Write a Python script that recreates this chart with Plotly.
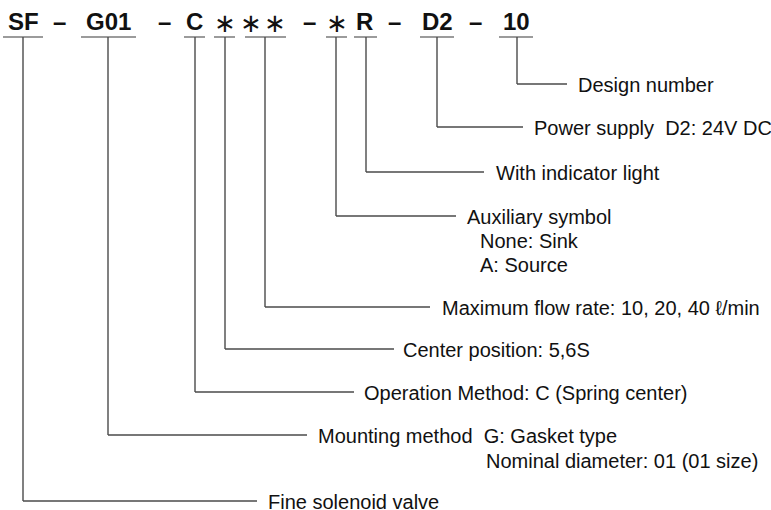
import plotly.graph_objects as go

# ---- content ----
header_tokens = ["SF", "–", "G01", "–", "C", "∗", "∗", "∗", "–", "∗", "R", "–", "D2", "–", "10"]
header_x = [23.5, 59.5, 108.5, 164.5, 194, 225, 251, 274.5, 309, 336.5, 364, 394.5, 437, 475.5, 516]

codes = ["SF", "G01", "C", "∗", "∗∗", "∗", "R", "D2", "10"]
underline_start = [3, 81, 184, 214, 245, 326, 354, 420, 499]
underline_end = [43, 136, 205, 235, 286, 347, 377, 454, 533]
leader_x = [23, 108, 195, 225, 265, 336, 366, 437, 517]
leader_y = [501, 435, 392, 349, 307, 216, 172, 127, 84]
leader_end = [257, 307, 354, 394, 430, 456, 484, 523, 567]
label_x = [267, 317, 363, 402, 441, 466, 495, 533, 577]
labels = [
    "Fine solenoid valve",
    "Mounting method  G: Gasket type",
    "Operation Method: C (Spring center)",
    "Center position: 5,6S",
    "Maximum flow rate: 10, 20, 40 ℓ/min",
    "Auxiliary symbol",
    "With indicator light",
    "Power supply  D2: 24V DC",
    "Design number",
]
sub_labels = ["None: Sink", "A: Source", "Nominal diameter: 01 (01 size)"]
sub_x = [479, 479, 485]
sub_y = [240.5, 264.5, 461]

underline_y = 37
header_y = 21

W, H = 771, 510
fig = go.Figure()
fig.add_trace(go.Scatter(x=[0, W], y=[0, H], mode="markers", marker=dict(opacity=0), hoverinfo="skip", showlegend=False))

FONT = "Liberation Sans, Arial, Helvetica, sans-serif"
line_col = "#4a4a4a"
ul_col = "#7a7a7a"

for s, e in zip(underline_start, underline_end):
    fig.add_shape(type="line", xref="x", yref="y", x0=s, x1=e, y0=underline_y, y1=underline_y,
                  line=dict(color=ul_col, width=1.5))

for lx, ly, le in zip(leader_x, leader_y, leader_end):
    fig.add_shape(type="line", xref="x", yref="y", x0=lx, x1=lx, y0=underline_y, y1=ly,
                  line=dict(color=line_col, width=1.4))
    fig.add_shape(type="line", xref="x", yref="y", x0=lx, x1=le, y0=ly, y1=ly,
                  line=dict(color=line_col, width=1.4))

for t, x in zip(header_tokens, header_x):
    is_star = t == "∗"
    fig.add_annotation(x=x, y=header_y + (2 if is_star else 0), xref="x", yref="y", text=("<b>%s</b>" % t) if not is_star else t,
                       showarrow=False, xanchor="center", yanchor="middle", borderpad=0,
                       font=dict(family=FONT if not is_star else "DejaVu Sans, sans-serif",
                                 size=24 if not is_star else 26, color="#111"))

for t, x, y in zip(labels, label_x, leader_y):
    fig.add_annotation(x=x, y=y + 0.5, xref="x", yref="y", text=t, showarrow=False,
                       xanchor="left", yanchor="middle", borderpad=0,
                       font=dict(family=FONT, size=20, color="#111"))

for t, x, y in zip(sub_labels, sub_x, sub_y):
    fig.add_annotation(x=x, y=y, xref="x", yref="y", text=t, showarrow=False,
                       xanchor="left", yanchor="middle", borderpad=0,
                       font=dict(family=FONT, size=20, color="#111"))

fig.update_layout(
    width=W, height=H, margin=dict(l=0, r=0, t=0, b=0),
    paper_bgcolor="white", plot_bgcolor="white", showlegend=False,
    xaxis=dict(range=[0, W], visible=False, fixedrange=True),
    yaxis=dict(range=[H, 0], visible=False, fixedrange=True),
)
fig.write_html("out.html", config={"displayModeBar": False, "staticPlot": True},
               post_script="document.body.style.margin='0';document.body.style.overflow='hidden';")
